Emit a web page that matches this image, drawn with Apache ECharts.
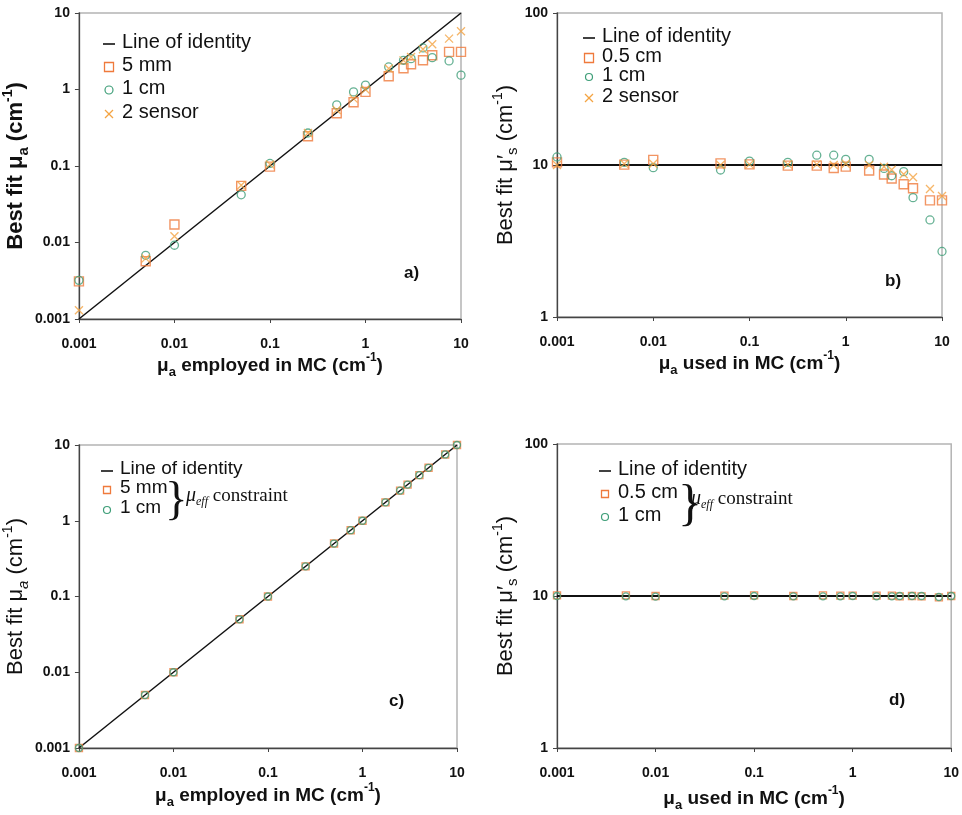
<!DOCTYPE html>
<html>
<head>
<meta charset="utf-8">
<script src="https://cdn.jsdelivr.net/npm/echarts@6/dist/echarts.min.js"></script>
<style>html,body{margin:0;padding:0;background:#fff}#c{width:962px;height:815px}</style>
</head>
<body>
<div id="c"></div>
<script>
// ---- data ----
const muaUsed = [0.001, 0.005, 0.01, 0.05, 0.1, 0.25, 0.5, 0.75, 1, 1.75, 2.5, 3, 4, 5, 7.5, 10];
const tickLabelsAC = ['0.001', '0.01', '0.1', '1', '10'];
const tickLabelsBD = ['1', '10', '100'];

// panel a) best fit mua
const a_5mm    = [0.0031, 0.0057, 0.0172, 0.055, 0.098, 0.245, 0.49, 0.68, 0.93, 1.49, 1.9, 2.14, 2.41, 2.8, 3.1, 3.1];
const a_1cm    = [0.0032, 0.0068, 0.0092, 0.042, 0.108, 0.27, 0.63, 0.93, 1.14, 1.97, 2.41, 2.53, 3.49, 2.61, 2.36, 1.54];
const a_2sens  = [0.0013, 0.0062, 0.0121, 0.056, 0.105, 0.27, 0.54, 0.76, 1.0, 1.88, 2.4, 2.66, 3.36, 3.9, 4.62, 5.77];
// panel b) best fit mus'
const b_05cm   = [10.4, 10.05, 10.8, 10.25, 10.1, 9.9, 9.9, 9.55, 9.75, 9.2, 8.65, 8.15, 7.47, 7.03, 5.85, 5.85];
const b_1cm    = [11.3, 10.4, 9.6, 9.27, 10.6, 10.4, 11.6, 11.6, 10.9, 10.9, 9.5, 8.5, 9.04, 6.1, 4.35, 2.7];
const b_2sens  = [10.0, 10.2, 10.2, 10.0, 10.1, 10.1, 10.1, 10.0, 10.2, 10.0, 9.75, 9.3, 8.7, 8.3, 6.95, 6.26];
// panel c) mueff constraint, best fit mua
const c_5mm    = [0.001, 0.005, 0.01, 0.05, 0.1, 0.25, 0.5, 0.75, 1, 1.75, 2.5, 3, 4, 5, 7.5, 10];
const c_1cm    = [0.001, 0.005, 0.01, 0.05, 0.1, 0.25, 0.5, 0.75, 1, 1.75, 2.5, 3, 4, 5, 7.5, 10];
// panel d) mueff constraint, best fit mus'
const d_05cm   = [10.1, 10.1, 10.0, 10.05, 10.1, 10.0, 10.1, 10.05, 10.05, 10.05, 10.05, 9.95, 10.0, 9.95, 9.8, 10.0];
const d_1cm    = [10.0, 9.95, 9.9, 9.95, 10.0, 9.95, 9.95, 9.95, 10.0, 9.95, 9.95, 10.0, 10.0, 10.0, 9.85, 10.0];
// lines of identity
const identityAC = [[0.001, 0.001], [10, 10]];
const identityBD = [[0.001, 10], [10, 10]];

// ---- styles ----
const FONT = "'Liberation Sans', Arial, sans-serif";
const SERIF = "'Liberation Serif', 'Times New Roman', serif";
const ORANGE = '#EF7A3C';
const GREEN = '#3E9E78';
const LORANGE = '#F4A443';
const CROSS = 'path://M0,0 L10,10 M10,0 L0,10';

const pair = (ys) => muaUsed.map((x, i) => [x, ys[i]]);
const fmt = (v) => String(+(+v).toPrecision(6));

const grids = [
  {left: 73, top: 13, width: 388, height: 306},
  {left: 557, top: 13, width: 385, height: 304},
  {left: 73, top: 445, width: 384, height: 303},
  {left: 557, top: 444, width: 395, height: 304}
].map(g => Object.assign({show: true, borderColor: '#b4b4b4', borderWidth: 1.5, backgroundColor: 'transparent'}, g));

function richFor(size, bold, subItalic) {
  const w = bold ? 'bold' : 'normal';
  return {
    m: {fontSize: size, fontWeight: w, fontFamily: FONT, color: '#111', lineHeight: size + 8},
    sub: {fontSize: Math.round(size * 0.68), fontWeight: w, fontStyle: subItalic ? 'italic' : 'normal', fontFamily: FONT, color: '#111', verticalAlign: 'bottom', lineHeight: Math.round(size * 0.68)},
    sup: {fontSize: Math.round(size * 0.62), fontWeight: w, fontFamily: FONT, color: '#111', verticalAlign: 'top', lineHeight: Math.round(size * 0.62)}
  };
}

function xAxis(idx, name, gap) {
  return {
    type: 'log', logBase: 10, gridIndex: idx, min: 0.001, max: 10,
    name: name, nameLocation: 'middle', nameGap: gap,
    nameTextStyle: {rich: richFor(19, true, false)},
    axisLine: {show: true, lineStyle: {color: '#444', width: 1.3}},
    axisTick: {show: true, length: 4, lineStyle: {color: '#444'}},
    minorTick: {show: false},
    splitLine: {show: false},
    axisLabel: {margin: 18, fontSize: 14, fontWeight: 'bold', fontFamily: FONT, color: '#111', formatter: fmt}
  };
}
function yAxis(idx, min, max, name, gap, bold, size, subItalic) {
  return {
    type: 'log', logBase: 10, gridIndex: idx, min: min, max: max,
    name: name, nameLocation: 'middle', nameGap: gap, nameRotate: 90,
    nameTextStyle: {rich: richFor(size, bold, subItalic)},
    axisLine: {show: true, lineStyle: {color: '#444', width: 1.3}},
    axisTick: {show: true, length: 4, lineStyle: {color: '#444'}},
    splitLine: {show: false},
    axisLabel: {margin: 9, fontSize: 14, fontWeight: 'bold', fontFamily: FONT, color: '#111', formatter: fmt}
  };
}

function identity(idx, data, w) {
  return {type: 'line', xAxisIndex: idx, yAxisIndex: idx, data: data, symbol: 'none', silent: true,
    lineStyle: {color: '#111', width: w}, z: 1, animation: false};
}
function scat(idx, name, ys, kind, size) {
  const base = {type: 'scatter', name: name, xAxisIndex: idx, yAxisIndex: idx, data: pair(ys), animation: false, z: 3};
  if (kind === 'sq') return Object.assign(base, {symbol: 'rect', symbolSize: size, itemStyle: {color: 'transparent', borderColor: ORANGE, borderWidth: 1.4}});
  if (kind === 'ci') return Object.assign(base, {symbol: 'circle', symbolSize: size, itemStyle: {color: 'transparent', borderColor: GREEN, borderWidth: 1.3}});
  return Object.assign(base, {symbol: CROSS, symbolSize: size, itemStyle: {color: 'none', borderColor: LORANGE, borderWidth: 1.3}});
}

// ---- legend / annotation graphics ----
const g = [];
function legendText(x, y, txt, size) {
  g.push({type: 'text', left: x, top: y - size * 0.6, style: {text: txt, fontSize: size, fontFamily: FONT, fill: '#111'}});
}
function legLine(x, y, txt, size) { g.push({type: 'line', shape: {x1: x - 6, y1: y, x2: x + 6, y2: y}, style: {stroke: '#111', lineWidth: 1.6}}); legendText(x + 13, y, txt, size); }
function legSq(x, y, txt, size, s) { g.push({type: 'rect', shape: {x: x - s / 2, y: y - s / 2, width: s, height: s}, style: {fill: 'none', stroke: ORANGE, lineWidth: 1.3}}); legendText(x + 13, y, txt, size); }
function legCi(x, y, txt, size, s) { g.push({type: 'circle', shape: {cx: x, cy: y, r: s / 2}, style: {fill: 'none', stroke: GREEN, lineWidth: 1.2}}); legendText(x + 13, y, txt, size); }
function legX(x, y, txt, size, s) {
  g.push({type: 'line', shape: {x1: x - s / 2, y1: y - s / 2, x2: x + s / 2, y2: y + s / 2}, style: {stroke: LORANGE, lineWidth: 1.2}});
  g.push({type: 'line', shape: {x1: x + s / 2, y1: y - s / 2, x2: x - s / 2, y2: y + s / 2}, style: {stroke: LORANGE, lineWidth: 1.2}});
  legendText(x + 13, y, txt, size);
}
function constraint(x, top, size, tx, ty) {
  g.push({type: 'text', left: x - 6, top: top, style: {text: '}', fontSize: size, fontFamily: SERIF, fill: '#111'}});
  g.push({type: 'text', left: tx, top: ty - 11, style: {
    text: '{mu|μ}{e|eff}{t| constraint}',
    rich: {
      mu: {fontSize: 20, fontStyle: 'italic', fontFamily: SERIF, fill: '#111', lineHeight: 24},
      e: {fontSize: 12, fontStyle: 'italic', fontFamily: SERIF, fill: '#111', verticalAlign: 'bottom', lineHeight: 12},
      t: {fontSize: 19, fontFamily: SERIF, fill: '#111', lineHeight: 24}
    }}});
}
function panelLabel(x, y, t) {
  g.push({type: 'text', left: x - 9, top: y - 10, style: {text: t, fontSize: 17, fontWeight: 'bold', fontFamily: FONT, fill: '#111'}});
}

// panel a legend
legLine(109, 44, 'Line of identity', 20);
legSq(109, 67, '5 mm', 20, 9);
legCi(109, 90, '1 cm', 20, 8);
legX(109, 114, '2 sensor', 20, 8);
// panel b legend
legLine(589, 38, 'Line of identity', 20);
legSq(589, 58, '0.5 cm', 20, 9);
legCi(589, 77, '1 cm', 20, 7);
legX(589, 98, '2 sensor', 20, 8);
// panel c legend
legLine(107, 471, 'Line of identity', 19);
legSq(107, 490, '5 mm', 19, 7);
legCi(107, 510, '1 cm', 19, 7);
constraint(171, 478, 47, 186, 497);
// panel d legend
legLine(605, 471, 'Line of identity', 20);
legSq(605, 494, '0.5 cm', 20, 7);
legCi(605, 517, '1 cm', 20, 7);
constraint(684, 481, 50, 691, 500);

panelLabel(413, 275, 'a)');
panelLabel(894, 283, 'b)');
panelLabel(398, 703, 'c)');
panelLabel(898, 702, 'd)');

const option = {
  backgroundColor: '#fff',
  animation: false,
  grid: grids,
  xAxis: [
    xAxis(0, '{m|μ}{sub|a}{m| employed in MC (cm}{sup|-1}{m|)}', 33),
    xAxis(1, '{m|μ}{sub|a}{m| used in MC (cm}{sup|-1}{m|)}', 33),
    xAxis(2, '{m|μ}{sub|a}{m| employed in MC (cm}{sup|-1}{m|)}', 34),
    xAxis(3, '{m|μ}{sub|a}{m| used in MC (cm}{sup|-1}{m|)}', 37)
  ],
  yAxis: [
    yAxis(0, 0.001, 10, '{m|Best fit μ}{sub|a}{m| (cm}{sup|-1}{m|)}', 32, true, 22, false),
    yAxis(1, 1, 100, '{m|Best fit μ′}{sub|s}{m| (cm}{sup|-1}{m|)}', 28, false, 22, false),
    yAxis(2, 0.001, 10, '{m|Best fit μ}{sub|a}{m| (cm}{sup|-1}{m|)}', 38, false, 22, true),
    yAxis(3, 1, 100, '{m|Best fit μ′}{sub|s}{m| (cm}{sup|-1}{m|)}', 30, false, 22, false)
  ],
  series: [
    identity(0, identityAC, 1.5),
    scat(0, '5 mm', a_5mm, 'sq', 9),
    scat(0, '1 cm', a_1cm, 'ci', 8),
    scat(0, '2 sensor', a_2sens, 'x', 8),
    identity(1, identityBD, 2),
    scat(1, '0.5 cm', b_05cm, 'sq', 9),
    scat(1, '1 cm', b_1cm, 'ci', 8),
    scat(1, '2 sensor', b_2sens, 'x', 8),
    identity(2, identityAC, 1.5),
    scat(2, '5 mm', c_5mm, 'sq', 7),
    scat(2, '1 cm', c_1cm, 'ci', 7),
    identity(3, identityBD, 2),
    scat(3, '0.5 cm', d_05cm, 'sq', 7),
    scat(3, '1 cm', d_1cm, 'ci', 7)
  ],
  graphic: g
};

const chart = echarts.init(document.getElementById('c'), null, {renderer: 'canvas'});
chart.setOption(option);
</script>
</body>
</html>
